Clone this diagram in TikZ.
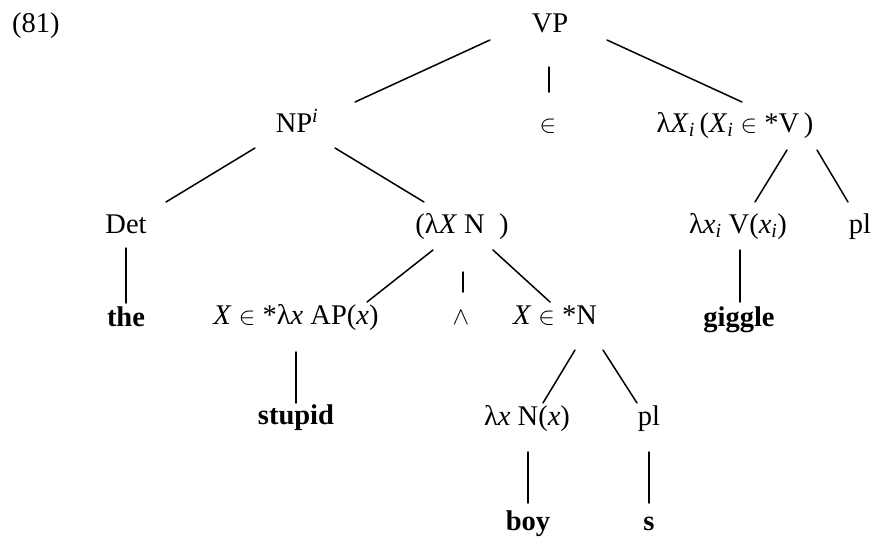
\documentclass[tikz,border=0pt]{standalone}
\usepackage{fontspec}
\setmainfont{Liberation Serif}
\begin{document}
\begin{tikzpicture}[x=1pt,y=-1pt,
  lbl/.style={inner sep=0pt, anchor=base, font=\fontsize{28.5}{32}\selectfont},
  br/.style={line width=1.5pt, line cap=round}]
\useasboundingbox[fill=white] (0,0) rectangle (876,539);
\newcommand\sh[3]{([shift={(#1,#2)}]#3.base)}
\newcommand\sbi{\textsubscript{\textit{i}}}
% nodes
\node[lbl, anchor=base west] (ex) at (12,32) {(81)};
\node[lbl] (VP) at (550,32) {VP};
\node[lbl] (NP) at (297,132) {NP\textsuperscript{\textit{i}}};
\node[lbl] (in) at (548,132) {$\in$};
\node[lbl] (LXi) at (735,132) {λ\textit{X}\sbi\,(\textit{X}\sbi\ $\in$ *V\,)};
\node[lbl] (Det) at (126,233) {Det};
\node[lbl] (LXN) at (462,233) {(λ\textit{X} N\ \ )};
\node[lbl] (lxiV) at (738,233) {λ\textit{x}\sbi\ V(\textit{x}\sbi)};
\node[lbl] (pla) at (860,233) {pl};
\node[lbl] (the) at (126,326) {\textbf{the}};
\node[lbl] (XAP) at (296,324) {\textit{X} $\in$ *λ\textit{x} AP(\textit{x})};
\node[lbl] (wedge) at (461,324) {$\wedge$};
\node[lbl] (XN) at (555,324) {\textit{X} $\in$ *N};
\node[lbl] (giggle) at (739,326) {\textbf{giggle}};
\node[lbl] (stupid) at (296,424) {\textbf{stupid}};
\node[lbl] (lxN) at (527,425) {λ\textit{x} N(\textit{x})};
\node[lbl] (plb) at (649,425) {pl};
\node[lbl] (boy) at (528,530) {\textbf{boy}};
\node[lbl] (s) at (649,530) {\textbf{s}};
% branches
\draw[br] \sh{-60}{8}{VP} -- \sh{58}{-30}{NP};
\draw[br] \sh{-1}{35}{VP} -- \sh{1}{-40}{in};
\draw[br] \sh{57}{8}{VP} -- \sh{7}{-30}{LXi};
\draw[br] \sh{-42}{16}{NP} -- \sh{40}{-31}{Det};
\draw[br] \sh{38}{16}{NP} -- \sh{-38}{-31}{LXN};
\draw[br] \sh{0}{15}{Det} -- \sh{0}{-23}{the};
\draw[br] \sh{52}{18}{LXi} -- \sh{17}{-31}{lxiV};
\draw[br] \sh{82}{18}{LXi} -- \sh{-12}{-31}{pla};
\draw[br] \sh{2}{17}{lxiV} -- \sh{1}{-24}{giggle};
\draw[br] \sh{-29}{17}{LXN} -- \sh{71}{-22}{XAP};
\draw[br] \sh{1}{39}{LXN} -- \sh{2}{-32}{wedge};
\draw[br] \sh{31}{17}{LXN} -- \sh{-5}{-22}{XN};
\draw[br] \sh{0}{28}{XAP} -- \sh{0}{-21}{stupid};
\draw[br] \sh{20}{26}{XN} -- \sh{16}{-22}{lxN};
\draw[br] \sh{48}{26}{XN} -- \sh{-12}{-22}{plb};
\draw[br] \sh{1}{27}{lxN} -- \sh{0}{-27}{boy};
\draw[br] \sh{0}{27}{plb} -- \sh{0}{-27}{s};
\end{tikzpicture}
\end{document}
